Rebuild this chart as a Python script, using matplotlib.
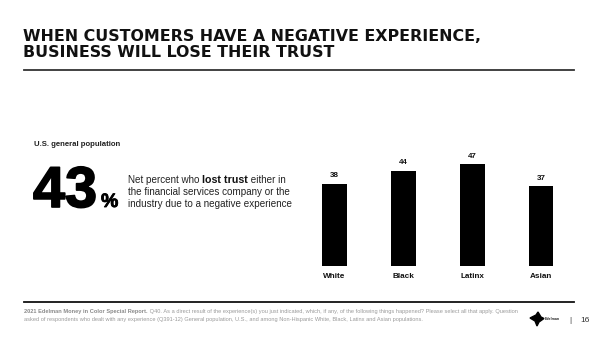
import matplotlib
matplotlib.use("Agg")
import matplotlib.pyplot as plt
import matplotlib.patheffects as pe
from matplotlib.patches import Polygon
from matplotlib.lines import Line2D

plt.rcParams['font.family'] = ['Liberation Sans', 'DejaVu Sans']

# data
groups = ['White', 'Black', 'Latinx', 'Asian']
lost_trust = [38, 44, 47, 37]
headline_value = 43

title = "WHEN CUSTOMERS HAVE A NEGATIVE EXPERIENCE,\nBUSINESS WILL LOSE THEIR TRUST"
footer_bold = "2021 Edelman Money in Color Special Report."
footer_1 = (" Q40. As a direct result of the experience(s) you just indicated, which, if any, "
            "of the following things happened? Please select all that apply. Question")
footer_2 = ("asked of respondents who dealt with any experience (Q391-12) General population, U.S., "
            "and among Non-Hispanic White, Black, Latinx and Asian populations.")

W, H = 600, 337
fig = plt.figure(figsize=(W / 100, H / 100), dpi=100)
fig.patch.set_facecolor('white')


def fx(px):
    return px / W


def fy(py):
    return 1 - py / H


# title + rules
fig.text(fx(23), fy(29), title, fontsize=11.45, fontweight='bold', color='#111111',
         va='top', ha='left', linespacing=1.06, family=['DejaVu Sans'])
fig.add_artist(Line2D([fx(24), fx(574)], [fy(70), fy(70)], color='#333333', lw=1.3))
fig.add_artist(Line2D([fx(24), fx(574)], [fy(302), fy(302)], color='#111111', lw=1.3))

# left panel
fig.text(fx(34), fy(145), "U.S. general population", fontsize=5.6, fontweight='bold',
         color='#222222', va='center')
heavy = [pe.withStroke(linewidth=1.2, foreground='black')]
fig.text(fx(33), fy(207), str(headline_value), fontsize=41.5, fontweight='bold',
         color='black', va='baseline', path_effects=heavy)
fig.text(fx(101), fy(207), "%", fontsize=14, fontweight='bold', color='black',
         va='baseline', path_effects=[pe.withStroke(linewidth=0.6, foreground='black')])

fig.canvas.draw()
r = fig.canvas.get_renderer()
x0 = fx(128)
line_ys = [180, 192, 204]
fs = 7.1
t1 = fig.text(x0, fy(line_ys[0]), "Net percent who ", fontsize=fs, color='#222222', va='center')
w1 = t1.get_window_extent(r).width / W
t2 = fig.text(x0 + w1, fy(line_ys[0]), "lost trust", fontsize=fs + 0.6, fontweight='bold',
              color='#111111', va='center')
w2 = t2.get_window_extent(r).width / W
fig.text(x0 + w1 + w2, fy(line_ys[0]), " either in", fontsize=fs, color='#222222', va='center')
fig.text(x0, fy(line_ys[1]), "the financial services company or the", fontsize=fs,
         color='#222222', va='center')
fig.text(x0, fy(line_ys[2]), "industry due to a negative experience", fontsize=fs,
         color='#222222', va='center')

# bar chart
ax = fig.add_axes([fx(300), fy(266), fx(275.5), 108.5 / H])
xs = range(len(groups))
bars = ax.bar(xs, lost_trust, width=0.36, color='black')
for b, v in zip(bars, lost_trust):
    ax.annotate(str(v), (b.get_x() + b.get_width() / 2, v), xytext=(0, 3),
                textcoords='offset points', ha='center', va='bottom',
                fontsize=5.8, fontweight='bold', color='#111111')
ax.set_xlim(-0.5, len(groups) - 0.5)
ax.set_ylim(0, 50)
ax.set_xticks(list(xs))
ax.set_xticklabels(groups, fontsize=5.9, fontweight='bold', color='#111111')
ax.tick_params(axis='x', length=0, pad=5)
ax.set_yticks([])
for s in ax.spines.values():
    s.set_visible(False)

# footer
fb = fig.text(fx(24), fy(312), footer_bold, fontsize=4.05, fontweight='bold', color='#8a8a8a',
              va='center')
wb = fb.get_window_extent(r).width / W
fig.text(fx(24) + wb, fy(312), footer_1, fontsize=4.05, color='#9a9a9a', va='center')
fig.text(fx(24), fy(319), footer_2, fontsize=4.05, color='#9a9a9a', va='center')

# logo + page number
logo = Polygon([[fx(530), fy(318)], [fx(536), fy(315)], [fx(538), fy(312)], [fx(541), fy(317)],
                [fx(544), fy(318.5)], [fx(539), fy(322)], [fx(537), fy(326)], [fx(535), fy(321)]],
               closed=True, color='black', transform=fig.transFigure)
fig.add_artist(logo)
fig.text(fx(545), fy(319.5), "Edelman", fontsize=2.6, fontweight='bold', color='#222222',
         va='center')
fig.text(fx(570), fy(320), "|", fontsize=6, color='#333333', va='center', ha='center')
fig.text(fx(580), fy(320), "16", fontsize=6, color='#333333', va='center')

fig.savefig("out.png", dpi=100)
